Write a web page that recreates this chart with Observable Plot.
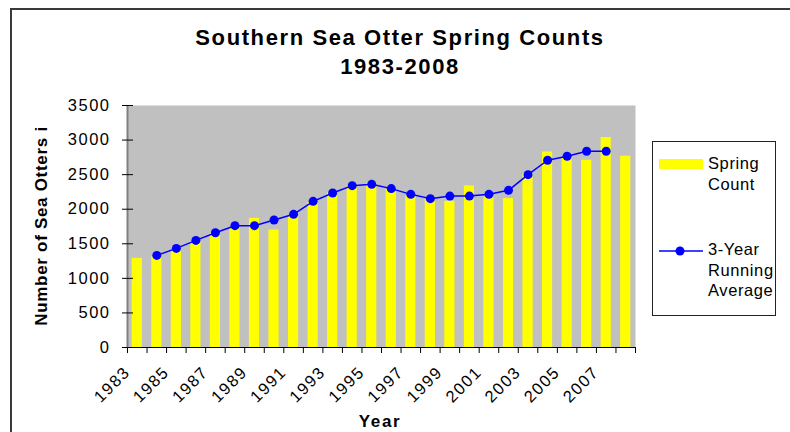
<!DOCTYPE html>
<html>
<head>
<meta charset="utf-8">
<script src="https://cdn.jsdelivr.net/npm/d3@7"></script>
<script src="https://cdn.jsdelivr.net/npm/@observablehq/plot@0.6"></script>
<style>
  html, body { margin: 0; padding: 0; background: #fff; }
  #wrap { position: relative; width: 790px; height: 432px; overflow: hidden; font-family: "Liberation Sans", Arial, sans-serif; color: #000; }
  #border { position: absolute; left: 10px; top: 8px; width: 800px; height: 440px; border: 2px solid #3a3a3a; box-sizing: border-box; pointer-events: none; }
  #chart { position: absolute; left: 0; top: 0; }
  .title { position: absolute; left: 0; width: 800px; text-align: center; font-weight: bold; font-size: 22px; letter-spacing: 1.6px; line-height: 1; }
  #ytitle { position: absolute; left: 42px; top: 226px; transform: translate(-50%, -50%) rotate(-90deg); white-space: nowrap; font-weight: bold; font-size: 17px; letter-spacing: 0.7px; }
  #xtitle { position: absolute; left: 380px; top: 412px; transform: translateX(-50%); font-weight: bold; font-size: 17px; letter-spacing: 1.6px; }
  #legend { position: absolute; left: 652px; top: 141px; width: 124px; height: 175px; border: 1px solid #222; box-sizing: border-box; background: #fff; font-size: 16.5px; letter-spacing: 0.6px; }
  .ltext { position: absolute; left: 55px; line-height: 20.5px; white-space: nowrap; }
</style>
</head>
<body>
<div id="wrap">
  <div id="chart"></div>
  <div id="border"></div>
  <div class="title" id="t1" style="top:27px">Southern Sea Otter Spring Counts</div>
  <div class="title" id="t2" style="top:56px">1983-2008</div>
  <div id="ytitle">Number of Sea Otters i</div>
  <div id="xtitle">Year</div>
  <div id="legend">
    <div id="swatch" style="position:absolute;left:6px;top:17px;width:44px;height:10px;background:#ffff00"></div>
    <div class="ltext" style="top:11px">Spring<br>Count</div>
    <svg style="position:absolute;left:6px;top:103px" width="46" height="12">
      <line x1="0" y1="6" x2="44" y2="6" stroke="#0000ff" stroke-width="1.5"></line>
      <circle cx="21" cy="6" r="4.5" fill="#0000ff"></circle>
    </svg>
    <div class="ltext" style="top:97px">3-Year<br>Running<br>Average</div>
  </div>
</div>
<script>
// ---- data ----
const years = ["1983","1984","1985","1986","1987","1988","1989","1990","1991","1992","1993","1994","1995","1996","1997","1998","1999","2000","2001","2002","2003","2004","2005","2006","2007","2008"];
const springCounts = [1289,1310,1395,1530,1650,1725,1868,1699,1895,2105,2240,2340,2375,2290,2190,2140,2114,2336,2175,2153,2510,2828,2745,2708,3036,2766];
const avgYears = ["1984","1985","1986","1987","1988","1989","1990","1991","1992","1993","1994","1995","1996","1997","1998","1999","2000","2001","2002","2003","2004","2005","2006","2007"];
const runningAverage = [1332,1433,1549,1660,1762,1762,1844,1926,2114,2234,2341,2360,2298,2215,2153,2190,2190,2215,2273,2500,2708,2766,2838,2838];
const yTicks = [0,500,1000,1500,2000,2500,3000,3500];
const xTickLabels = ["1983","1985","1987","1989","1991","1993","1995","1997","1999","2001","2003","2005","2007"];

// ---- layout ----
const W = 790, H = 432, ML = 127, MR = 155, MT = 105, MB = 85;
const step = (W - ML - MR) / years.length;

const countData = years.map((year, i) => ({year, value: springCounts[i]}));
const avgData = avgYears.map((year, i) => ({year, value: runningAverage[i]}));

const chart = Plot.plot({
  width: W, height: H,
  marginLeft: ML, marginRight: MR, marginTop: MT, marginBottom: MB,
  style: {fontFamily: '"Liberation Sans", Arial, sans-serif', fontSize: "16.5px", letterSpacing: "1.5px", background: "transparent", color: "#000"},
  x: {type: "band", domain: years, paddingInner: 0.48, paddingOuter: 0.24, round: false, label: null},
  y: {domain: [0, 3500], label: null},
  marks: [
    Plot.frame({fill: "#c0c0c0", stroke: null}),
    Plot.barY(countData, {x: "year", y: "value", fill: "#ffff00"}),
    Plot.line(avgData, {x: "year", y: "value", stroke: "#0000ff", strokeWidth: 1.5}),
    Plot.dot(avgData, {x: "year", y: "value", fill: "#0000ff", r: 4.5}),
    Plot.ruleX([years[0]], {stroke: "#808080", strokeWidth: 2, dx: -step / 2}),
    Plot.ruleY([0], {stroke: "#000", strokeWidth: 1.2}),
    Plot.axisY({ticks: yTicks, tickSize: 11, dx: 6, tickPadding: 12, tickFormat: d => String(d), label: null}),
    Plot.axisX({ticks: years, tickSize: 6, tickFormat: () => "", dx: -step / 2, label: null}),
    Plot.axisX({ticks: [years[years.length - 1]], tickSize: 6, tickFormat: () => "", dx: step / 2, label: null}),
    Plot.axisX({ticks: xTickLabels, tickSize: 0, tickRotate: -45, tickPadding: 22, dx: -10, label: null})
  ]
});
document.getElementById("chart").appendChild(chart);
</script>
</body>
</html>
